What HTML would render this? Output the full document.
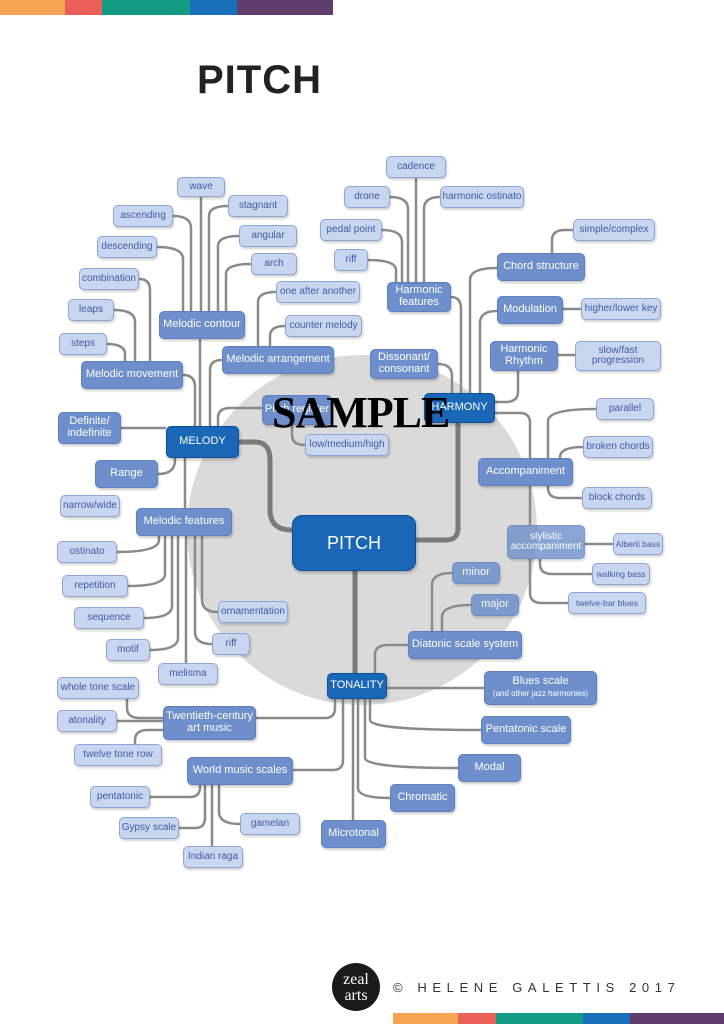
<!DOCTYPE html>
<html><head><meta charset="utf-8"><style>
body{margin:0;width:724px;height:1024px;background:#fff;position:relative;overflow:hidden;font-family:"Liberation Sans",sans-serif}
.b{position:absolute;box-sizing:border-box;display:flex;align-items:center;justify-content:center;text-align:center;border-radius:5px;line-height:1.05}
.l{background:#c9d6ef;border:1.5px solid #8ea5d6;color:#3d5ca8;font-size:10px;box-shadow:1px 2px 2px rgba(0,0,0,.18)}
.m{background:#6e8fcb;border:1.5px solid #5d7fbf;color:#fff;font-size:11px;box-shadow:1px 2px 2px rgba(0,0,0,.2)}
.d{background:#1a67b8;border:1.5px solid #0f4f98;color:#fff;font-size:11px;box-shadow:1px 2px 3px rgba(0,0,0,.25)}
.bar{position:absolute;height:15px}
</style></head><body>
<div class="bar" style="left:0;top:0;width:65px;background:#f7a354"></div>
<div class="bar" style="left:65px;top:0;width:37px;background:#ea5f58"></div>
<div class="bar" style="left:102px;top:0;width:88px;background:#149b83"></div>
<div class="bar" style="left:190px;top:0;width:47px;background:#1a6fbb"></div>
<div class="bar" style="left:237px;top:0;width:96px;background:#5f3d6d"></div>
<div class="bar" style="left:393px;top:1013px;width:65px;height:11px;background:#f7a354"></div>
<div class="bar" style="left:458px;top:1013px;width:38px;height:11px;background:#ea5f58"></div>
<div class="bar" style="left:496px;top:1013px;width:87px;height:11px;background:#149b83"></div>
<div class="bar" style="left:583px;top:1013px;width:47px;height:11px;background:#1a6fbb"></div>
<div class="bar" style="left:630px;top:1013px;width:94px;height:11px;background:#5f3d6d"></div>
<div style="position:absolute;left:197px;top:58px;font-size:40px;font-weight:bold;color:#222;letter-spacing:1px">PITCH</div>
<svg style="position:absolute;left:0;top:0" width="724" height="1024">
<circle cx="362" cy="530" r="175" fill="#dadada"/>
<g fill="none" stroke="#8a8a8a" stroke-width="2.5" stroke-linejoin="round">
<path d="M200 426V339M210 426V370Q210 360 222 360M183 375Q195 375 195 387V426M121 428H166M158 474Q175 474 175 460V458M185 458V508"/>
<path d="M173 216Q191 216 191 228V311M157 247Q183 247 183 259V311M201 197V311M228 206Q209 206 209 216V311M239 236Q218 236 218 246V311M251 264Q226 264 226 274V311"/>
<path d="M139 279Q150 279 150 290V361M114 310Q135 310 135 322V361M107 344Q125 344 125 354V361"/>
<path d="M276 292Q258 292 258 302V346M285 326Q270 326 270 336V346"/>
<path d="M117 552Q159 552 159 540V536M128 586Q165 586 165 574V536M144 618Q172 618 172 606V536M150 650Q178 650 178 638V536M186 536V663M212 644Q195 644 195 632V536M218 612Q202 612 202 600V536"/>
<path d="M218 426V418Q218 408 230 408H262M292 425V435Q292 445 305 445"/>
<path d="M127 699V708Q127 718 140 718H163M117 721H163M135 744V740Q135 730 148 730H163M256 718H325Q335 718 335 708V699M293 770H333Q343 770 343 760V699"/>
<path d="M150 797H190Q200 797 200 787V785M179 828H195Q205 828 205 818V785M212 785V846M240 824Q219 824 219 812V785"/>
<path d="M353 699V820M390 798Q358 798 358 788V699M458 768Q365 768 365 758V699M481 730Q370 730 370 720V699M387 688H484M375 673V655Q375 645 388 645H408M452 573Q432 573 432 585V631M471 605Q442 605 442 617V631"/>
<path d="M438 364Q452 364 452 376V393M451 297Q461 297 461 309V393M497 268Q470 268 470 280V393M497 311Q480 311 480 323V393M518 371V392Q518 402 505 402H495M495 413H520Q530 413 530 423V458"/>
<path d="M416 178V282M390 197Q408 197 408 209V282M382 230Q402 230 402 242V282M368 260Q396 260 396 270V282M440 197Q424 197 424 209V282"/>
<path d="M552 253V240Q552 230 565 230H573M563 309H581M558 355H575"/>
<path d="M596 409Q548 409 548 421V458M583 447Q560 447 560 457V458M548 486V488Q548 498 560 498H582M530 486V525M585 544H613M540 559V564Q540 574 552 574H592M530 559V593Q530 603 542 603H568"/>
</g>
<g fill="none" stroke="#7a7a7a" stroke-width="5" stroke-linejoin="round">
<path d="M239 442H255Q270 442 270 460V510Q270 530 292 530"/>
<path d="M416 540H446Q458 540 458 528V423"/>
<path d="M355 571V673"/>
</g>
<circle cx="356" cy="987" r="24" fill="#1a1a1a"/>
<text x="356" y="984" font-family="Liberation Serif" font-size="16" fill="#fff" text-anchor="middle">zeal</text>
<text x="356" y="1000" font-family="Liberation Serif" font-size="16" fill="#fff" text-anchor="middle">arts</text>
</svg>
<div style="position:absolute;left:393px;top:980px;font-size:13px;letter-spacing:5.6px;color:#333">© HELENE GALETTIS 2017</div>

<div class="b l" style="left:177px;top:177px;width:48px;height:20px">wave</div>
<div class="b l" style="left:228px;top:195px;width:60px;height:22px">stagnant</div>
<div class="b l" style="left:239px;top:225px;width:58px;height:22px">angular</div>
<div class="b l" style="left:251px;top:253px;width:46px;height:22px">arch</div>
<div class="b l" style="left:113px;top:205px;width:60px;height:22px">ascending</div>
<div class="b l" style="left:97px;top:236px;width:60px;height:22px">descending</div>
<div class="b l" style="left:79px;top:268px;width:60px;height:22px">combination</div>
<div class="b l" style="left:68px;top:299px;width:46px;height:22px">leaps</div>
<div class="b l" style="left:59px;top:333px;width:48px;height:22px">steps</div>
<div class="b l" style="left:276px;top:281px;width:84px;height:22px">one after another</div>
<div class="b l" style="left:285px;top:315px;width:77px;height:22px">counter melody</div>
<div class="b m" style="left:159px;top:311px;width:86px;height:28px">Melodic contour</div>
<div class="b m" style="left:222px;top:346px;width:112px;height:28px">Melodic arrangement</div>
<div class="b m" style="left:81px;top:361px;width:102px;height:28px">Melodic movement</div>
<div class="b m" style="left:58px;top:412px;width:63px;height:32px"><div>Definite/<br>indefinite</div></div>
<div class="b d" style="left:166px;top:426px;width:73px;height:32px">MELODY</div>
<div class="b m" style="left:95px;top:460px;width:63px;height:28px">Range</div>
<div class="b l" style="left:60px;top:495px;width:60px;height:22px">narrow/wide</div>
<div class="b m" style="left:136px;top:508px;width:96px;height:28px">Melodic features</div>
<div class="b l" style="left:57px;top:541px;width:60px;height:22px">ostinato</div>
<div class="b l" style="left:62px;top:575px;width:66px;height:22px">repetition</div>
<div class="b l" style="left:74px;top:607px;width:70px;height:22px">sequence</div>
<div class="b l" style="left:106px;top:639px;width:44px;height:22px">motif</div>
<div class="b l" style="left:158px;top:663px;width:60px;height:22px">melisma</div>
<div class="b l" style="left:218px;top:601px;width:70px;height:22px">ornamentation</div>
<div class="b l" style="left:212px;top:633px;width:38px;height:22px">riff</div>
<div class="b l" style="left:57px;top:677px;width:82px;height:22px">whole tone scale</div>
<div class="b l" style="left:57px;top:710px;width:60px;height:22px">atonality</div>
<div class="b l" style="left:74px;top:744px;width:88px;height:22px">twelve tone row</div>
<div class="b m" style="left:163px;top:706px;width:93px;height:34px"><div>Twentieth-century<br>art music</div></div>
<div class="b m" style="left:187px;top:757px;width:106px;height:28px">World music scales</div>
<div class="b l" style="left:90px;top:786px;width:60px;height:22px">pentatonic</div>
<div class="b l" style="left:119px;top:817px;width:60px;height:22px">Gypsy scale</div>
<div class="b l" style="left:240px;top:813px;width:60px;height:22px">gamelan</div>
<div class="b l" style="left:183px;top:846px;width:60px;height:22px">Indian raga</div>
<div class="b m" style="left:321px;top:820px;width:65px;height:28px">Microtonal</div>
<div class="b m" style="left:390px;top:784px;width:65px;height:28px">Chromatic</div>
<div class="b m" style="left:458px;top:754px;width:63px;height:28px">Modal</div>
<div class="b m" style="left:481px;top:716px;width:90px;height:28px">Pentatonic scale</div>
<div class="b m" style="left:484px;top:671px;width:113px;height:34px"><div>Blues scale<br><span style="font-size:8px">(and other jazz harmonies)</span></div></div>
<div class="b d" style="left:327px;top:673px;width:60px;height:26px">TONALITY</div>
<div class="b m" style="left:408px;top:631px;width:114px;height:28px">Diatonic scale system</div>
<div class="b m" style="left:471px;top:594px;width:48px;height:22px;opacity:.85">major</div>
<div class="b m" style="left:452px;top:562px;width:48px;height:22px;opacity:.85">minor</div>
<div class="b d" style="left:292px;top:515px;width:124px;height:56px;font-size:18px;border-radius:10px">PITCH</div>
<div class="b m" style="left:262px;top:395px;width:70px;height:30px">Pitch register</div>
<div class="b l" style="left:305px;top:434px;width:84px;height:22px">low/medium/high</div>
<div class="b m" style="left:370px;top:349px;width:68px;height:30px"><div>Dissonant/<br>consonant</div></div>
<div class="b d" style="left:424px;top:393px;width:71px;height:30px">HARMONY</div>
<div class="b m" style="left:387px;top:282px;width:64px;height:30px"><div>Harmonic<br>features</div></div>
<div class="b l" style="left:386px;top:156px;width:60px;height:22px">cadence</div>
<div class="b l" style="left:344px;top:186px;width:46px;height:22px">drone</div>
<div class="b l" style="left:440px;top:186px;width:84px;height:22px">harmonic ostinato</div>
<div class="b l" style="left:320px;top:219px;width:62px;height:22px">pedal point</div>
<div class="b l" style="left:334px;top:249px;width:34px;height:22px">riff</div>
<div class="b m" style="left:497px;top:253px;width:88px;height:28px">Chord structure</div>
<div class="b l" style="left:573px;top:219px;width:82px;height:22px">simple/complex</div>
<div class="b m" style="left:497px;top:296px;width:66px;height:28px">Modulation</div>
<div class="b l" style="left:581px;top:298px;width:80px;height:22px">higher/lower key</div>
<div class="b m" style="left:490px;top:341px;width:68px;height:30px"><div>Harmonic<br>Rhythm</div></div>
<div class="b l" style="left:575px;top:341px;width:86px;height:30px"><div>slow/fast<br>progression</div></div>
<div class="b l" style="left:596px;top:398px;width:58px;height:22px">parallel</div>
<div class="b l" style="left:583px;top:436px;width:70px;height:22px">broken chords</div>
<div class="b l" style="left:582px;top:487px;width:70px;height:22px">block chords</div>
<div class="b m" style="left:478px;top:458px;width:95px;height:28px">Accompaniment</div>
<div class="b m" style="left:507px;top:525px;width:78px;height:34px;font-size:10px;opacity:.8"><div>stylistic<br>accompaniment</div></div>
<div class="b l" style="left:613px;top:533px;width:50px;height:22px;font-size:8.5px">Alberti bass</div>
<div class="b l" style="left:592px;top:563px;width:58px;height:22px;font-size:8.5px">walking bass</div>
<div class="b l" style="left:568px;top:592px;width:78px;height:22px;font-size:8.5px">twelve-bar blues</div>
<div style="position:absolute;left:272px;top:387px;font-family:'Liberation Serif',serif;font-weight:bold;font-size:44px;color:#000;letter-spacing:-1px">SAMPLE</div>
</body></html>
